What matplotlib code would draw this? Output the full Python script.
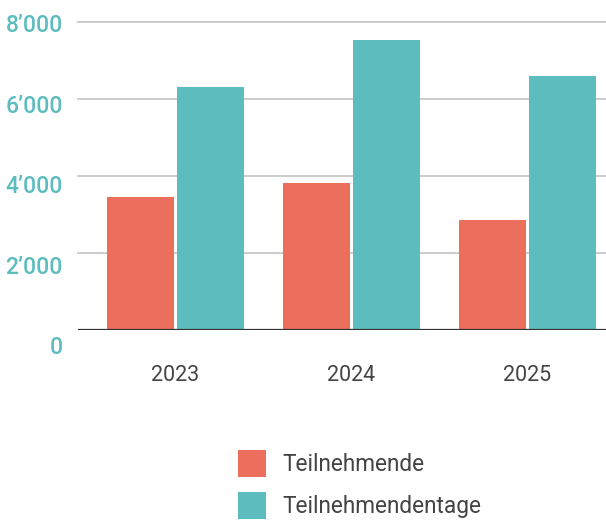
import matplotlib.pyplot as plt
import matplotlib.transforms as mtransforms
import numpy as np

plt.rcParams['font.family'] = ['Roboto', 'DejaVu Sans']

jahre = ['2023', '2024', '2025']
teilnehmende = [3450, 3815, 2855]
teilnehmendentage = [6305, 7525, 6590]
y_ticks = [0, 2000, 4000, 6000, 8000]

rot = '#EC6E5D'
tuerkis = '#5DBDBE'

fig = plt.figure(figsize=(6.06, 5.23), dpi=100)
ax = fig.add_axes([78 / 606, 1 - 330 / 523, 528 / 606, (330 - 17.8) / 523])

x = np.arange(len(jahre))
breite = 67 / 176
abstand = 3 / 176
ax.bar(x - (breite + abstand) / 2, teilnehmende, breite, color=rot, label='Teilnehmende', zorder=3)
ax.bar(x + (breite + abstand) / 2, teilnehmendentage, breite, color=tuerkis, label='Teilnehmendentage', zorder=3)

ax.set_xlim(-0.554, 2.446)
ax.set_ylim(0, 8100)

ax.set_yticks(y_ticks, [f'{v:,}'.replace(',', '\u2019') for v in y_ticks])
ax.set_xticks(x, jahre)
for t in y_ticks[1:]:
    ax.axhline(t, color='#cccccc', lw=1.4, zorder=1, clip_on=False)
ax.axhline(0, color='#333333', lw=1.6, zorder=4)

for s in ax.spines.values():
    s.set_visible(False)
ax.tick_params(axis='y', length=0, pad=11, labelsize=16.5, labelcolor=tuerkis)
ax.tick_params(axis='x', length=0, pad=25, labelsize=15.5, labelcolor='#444444')
for lab in ax.get_yticklabels():
    lab.set_fontweight('medium')

# y-Beschriftungen sitzen etwas unterhalb der Gitterlinien
for lab, v in zip(ax.get_yticklabels(), y_ticks):
    off = (15 - 3.3 * v / 2000) / 100
    lab.set_transform(lab.get_transform() + mtransforms.ScaledTranslation(0, -off, fig.dpi_scale_trans))

fig.legend(loc='upper left', bbox_to_anchor=(237.7 / 606, 1 - 450 / 523), frameon=False,
           fontsize=16.3, handlelength=1.24, handleheight=1.45, labelspacing=0.68,
           handletextpad=0.72, borderpad=0, borderaxespad=0, labelcolor='#444444')

fig.savefig('out.png', dpi=100)
